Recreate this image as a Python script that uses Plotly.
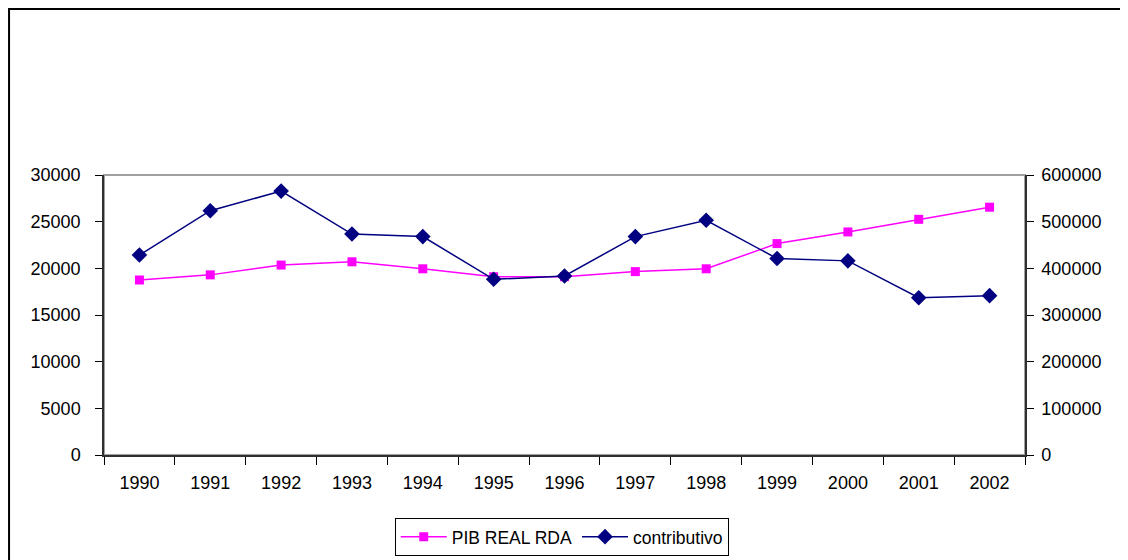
import plotly.graph_objects as go

years = ["1990", "1991", "1992", "1993", "1994", "1995", "1996",
         "1997", "1998", "1999", "2000", "2001", "2002"]
pib_real_rda = [18750, 19300, 20350, 20700, 19950, 19100, 19100,
                19650, 19950, 22650, 23900, 25250, 26550]
contributivo = [428500, 523500, 565500, 473500, 468000, 376500, 383500,
                468000, 503000, 421000, 416000, 337000, 341500]

FONT = "Liberation Sans, Arial, sans-serif"

fig = go.Figure()

fig.add_trace(go.Scatter(
    x=years, y=pib_real_rda,
    name="PIB REAL RDA",
    mode="lines+markers",
    line=dict(color="#ff00ff", width=1.5),
    marker=dict(symbol="square", size=9, color="#ff00ff"),
    yaxis="y"
))
fig.add_trace(go.Scatter(
    x=years, y=contributivo,
    name="contributivo",
    mode="lines+markers",
    line=dict(color="#000080", width=1.5),
    marker=dict(symbol="diamond", size=12, color="#000080"),
    yaxis="y2"
))

# page body adds an 8px offset, so the figure is 1120x552
# plot area: x 96..1017, y 167..447 (figure pixels)
fig.add_shape(type="rect", xref="paper", yref="paper",
              x0=0, x1=1, y0=0, y1=1,
              line=dict(color="#a0a0a0", width=2), layer="below")
# outer chart border, open to the right and bottom
fig.add_shape(type="path", xref="paper", yref="paper",
              path="M -0.1031,-0.45 L -0.1031,1.593 L 1.13,1.593",
              line=dict(color="black", width=2))

fig.update_layout(
    width=1120, height=552,
    margin=dict(l=96, r=103, t=167, b=105, autoexpand=False),
    paper_bgcolor="white", plot_bgcolor="white",
    font=dict(family=FONT, size=18, color="black"),
    showlegend=True,
    legend=dict(
        orientation="h",
        x=0.497, xanchor="center",
        y=-0.36, yanchor="bottom",
        bordercolor="black", borderwidth=1,
        font=dict(size=17.5),
        itemwidth=46,
        tracegroupgap=0,
    ),
    xaxis=dict(
        type="category",
        range=[-0.5, len(years) - 0.5],
        tickson="boundaries",
        ticks="outside", ticklen=8, tickcolor="black",
        showline=True, linecolor="#303030", linewidth=1.5,
        showgrid=False, zeroline=False,
        ticklabelstandoff=11,
    ),
    yaxis=dict(
        range=[0, 30000], dtick=5000, tickformat="d",
        ticks="outside", ticklen=7, tickcolor="black",
        showline=True, linecolor="#303030", linewidth=1.5,
        showgrid=False, zeroline=False,
        ticklabelstandoff=11,
    ),
    yaxis2=dict(
        range=[0, 600000], dtick=100000, tickformat="d",
        overlaying="y", side="right",
        ticks="outside", ticklen=7, tickcolor="black",
        showline=True, linecolor="#303030", linewidth=1.5,
        showgrid=False, zeroline=False,
        ticklabelstandoff=4,
    ),
)

fig.write_html("out.html")
